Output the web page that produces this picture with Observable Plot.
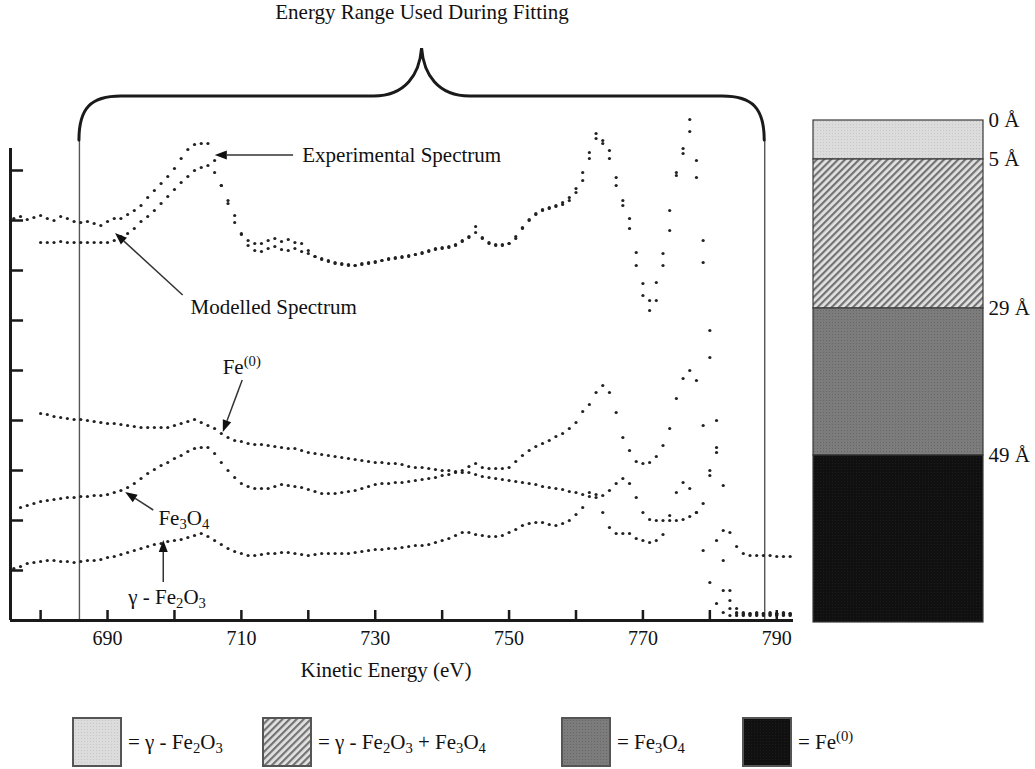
<!DOCTYPE html>
<html><head><meta charset="utf-8">
<script src="https://cdn.jsdelivr.net/npm/d3@7"></script>
<script src="https://cdn.jsdelivr.net/npm/@observablehq/plot@0.6"></script>
<style>
body{margin:0;background:#fff;}
#wrap{position:relative;width:1035px;height:769px;font-family:"Liberation Serif","Times New Roman",serif;color:#111;overflow:hidden;}
#main{position:absolute;left:0;top:0;}
#bar{position:absolute;left:790px;top:100px;}
.leg{position:absolute;top:717px;height:50px;display:flex;align-items:center;font-size:21px;white-space:nowrap;}
.leg svg{display:block;margin-right:6px;}
.leg sub,.leg sup{font-size:0.7em;line-height:0;}
.leg sub{vertical-align:-0.3em;}
.leg sup{vertical-align:0.55em;}
</style>
</head><body>
<svg width="0" height="0" style="position:absolute">
<defs>
<pattern id="pLight" width="3" height="3" patternUnits="userSpaceOnUse"><rect width="3" height="3" fill="#dcdcdc"/><rect width="1" height="1" fill="#c6c6c6"/></pattern>
<pattern id="pHatch" width="5" height="5" patternUnits="userSpaceOnUse" patternTransform="rotate(45)"><rect width="5" height="5" fill="#e2e2e2"/><rect width="2.2" height="5" fill="#737373"/></pattern>
<pattern id="pMid" width="3" height="3" patternUnits="userSpaceOnUse"><rect width="3" height="3" fill="#7c7c7c"/><rect width="1" height="1" fill="#666"/></pattern>
<pattern id="pDark" width="3" height="3" patternUnits="userSpaceOnUse"><rect width="3" height="3" fill="#101010"/><rect width="1" height="1" fill="#1c1c1c"/></pattern>
</defs>
</svg>
<div id="wrap"><div id="main"></div><div id="bar"></div></div>
<script>
// ---------- DATA ----------
const energyEV = [676,677,678,679,680,681,682,683,684,685,686,687,688,689,690,691,692,693,694,695,696,697,698,699,700,701,702,703,704,705,706,707,708,709,710,711,712,713,714,715,716,717,718,719,720,721,722,723,724,725,726,727,728,729,730,731,732,733,734,735,736,737,738,739,740,741,742,743,744,745,746,747,748,749,750,751,752,753,754,755,756,757,758,759,760,761,762,763,764,765,766,767,768,769,770,771,772,773,774,775,776,777,778,779,780,781,782,783,784,785,786,787,788,789,790,791,792];

const experimental = [402,404,401,403,405,402,400,404,402,399,
398,399,397,395,399,402,402,406,410,415,
423,430,437,444,452,462,471,476,477,477,
460,435,417,398,386,380,377,377,380,382,
379,381,378,377,370,364,362,360,358,357,
356,355,357,358,359,360,362,363,364,365,
366,368,370,372,373,374,376,380,384,394,
383,378,376,376,377,382,392,400,406,410,
412,414,416,420,428,440,462,487,477,462,
435,415,392,355,325,310,320,355,390,445,
472,501,460,380,290,200,90,30,12,8,
7,8,7,8,7,8,7];

const modelled = [null,null,null,null,
378,378,378,379,378,378,378,378,378,378,
378,380,384,387,392,399,404,410,417,424,
431,438,444,450,453,455,448,435,420,405,
387,375,370,369,372,374,371,370,372,369,
367,364,361,359,357,356,355,355,356,357,
358,360,361,362,363,364,366,367,369,371,
372,373,375,379,383,388,382,377,375,375,
377,384,393,401,407,411,413,415,418,423,
432,448,468,482,480,470,443,420,402,368,
337,320,338,367,410,448,467,489,443,358,
263,168,60,20,8,6,6,6,6,6,
6,6,6];

const fe0 = [null,null,null,null,
207,206,204,203,202,201,201,200,199,198,
197,197,196,195,194,193,193,193,193,193,
195,197,199,201,198,195,192,187,183,180,
179,177,176,176,175,174,173,172,172,170,
168,167,166,165,164,163,162,161,160,159,
158,158,157,157,156,154,153,153,152,151,
150,150,149,148,148,146,144,143,142,141,
140,139,138,137,136,134,133,132,131,129,
128,126,124,123,125,130,137,142,137,123,
108,101,100,100,100,100,101,104,108,117,
145,173,135,88,74,67,65,65,65,65,
64,64,64];

const fe3o4 = [null,
113,115,117,119,120,121,122,123,123,124,
124,125,125,126,128,130,133,137,142,147,
151,155,158,162,165,169,172,173,173,167,
158,150,143,137,134,132,132,132,134,136,
135,134,133,131,129,127,127,127,128,129,
130,132,134,136,137,137,138,138,139,140,
141,142,143,145,146,148,150,154,157,153,
152,152,152,153,159,165,170,174,177,180,
184,187,192,198,209,216,228,235,228,208,
183,170,159,157,158,164,175,192,222,242,
250,240,195,150,80,30,12,7,7,7,
7,7,7,7,7,7];

const gammaFe2o3 = [52,54,57,58,59,60,60,59,59,58,
59,60,60,61,63,64,66,68,70,72,
74,76,77,79,80,81,83,85,87,84,
80,76,72,69,67,65,65,66,67,67,
68,68,67,66,65,66,67,67,67,67,
67,68,69,70,71,71,72,72,73,74,
75,75,76,78,80,82,85,88,88,86,
85,84,84,85,88,91,95,97,98,98,
96,95,97,100,106,113,128,126,108,93,
87,87,87,82,80,78,80,86,105,128,
138,132,108,70,38,17,8,5,5,5,
5,5,5,5,5,5,5];

const xTickValues = [680,690,700,710,720,730,740,750,760,770,780,790];
const xTickLabels = [690,710,730,750,770,790];
const yTickValues = [50,100,150,200,250,300,350,400,450];
const fitRange = [685.8, 788.2];

const layerNames = ["γ-Fe2O3", "γ-Fe2O3 + Fe3O4", "Fe3O4", "Fe(0)"];
const layerTop = [0, 5, 29, 49];
const layerBottom = [5, 29, 49, 73];
const depthLabels = [0, 5, 29, 49];

const notes = [
  {label: "Experimental Spectrum", tx: 719.1, ty: 465, fromE: 717.8, fromV: 465, toE: 706.1, toV: 465},
  {label: "Modelled Spectrum", tx: 702.4, ty: 313, fromE: 701.3, fromV: 325, toE: 691.2, toV: 387},
  {label: "Fe^{(0)}", tx: 707.2, ty: 253, fromE: 710.2, fromV: 240, toE: 707.3, toV: 188},
  {label: "Fe_{3}O_{4}", tx: 697.6, ty: 102, fromE: 696.9, fromV: 110, toE: 692.7, toV: 128},
  {label: "γ - Fe_{2}O_{3}", tx: 693.1, ty: 23, fromE: 698.4, fromV: 38, toE: 698.4, toV: 80}
];

// ---------- BUILD ----------
const seriesList = [["Experimental", experimental], ["Modelled", modelled], ["Fe(0)", fe0], ["Fe3O4", fe3o4], ["γ-Fe2O3", gammaFe2o3]];
const points = [];
seriesList.forEach(([name, vals]) => vals.forEach((v, i) => { if (v != null) points.push({E: energyEV[i], v, s: name}); }));

const FONT = "Liberation Serif, Times New Roman, serif";
const xDomain = [675.5, 792.5];

function braceMark(range) {
  return (index, scales, values, dims) => {
    const xl = scales.x(range[0]), xr = scales.x(range[1]);
    const top = dims.marginTop;
    const yb = top - 8, yh = top - 52, yc = top - 100, xm = (xl + xr) / 2, r = 42;
    const d = `M${xl},${yb} C${xl},${yh + 12} ${xl + 12},${yh} ${xl + r},${yh}` +
      ` L${xm - 48},${yh} C${xm - 16},${yh} ${xm - 2},${yh - 22} ${xm},${yc}` +
      ` C${xm + 2},${yh - 22} ${xm + 16},${yh} ${xm + 48},${yh}` +
      ` L${xr - r},${yh} C${xr - 12},${yh} ${xr},${yh + 12} ${xr},${yb}`;
    const g = d3.create("svg:g");
    g.append("path").attr("d", d).attr("fill", "none").attr("stroke", "#1a1a1a").attr("stroke-width", 3).attr("stroke-linecap", "round");
    return g.node();
  };
}

function arrowMark(data) {
  return (index, scales) => {
    const g = d3.create("svg:g");
    for (const a of data) {
      const x1 = scales.x(a.fromE), y1 = scales.y(a.fromV), x2 = scales.x(a.toE), y2 = scales.y(a.toV);
      const ang = Math.atan2(y2 - y1, x2 - x1), L = 12, w = 4.5;
      const bx = x2 - L * Math.cos(ang), by = y2 - L * Math.sin(ang);
      g.append("line").attr("x1", x1).attr("y1", y1).attr("x2", bx).attr("y2", by)
        .attr("stroke", "#333").attr("stroke-width", 1.5);
      g.append("path").attr("d", `M${x2},${y2}L${bx - w * Math.sin(ang)},${by + w * Math.cos(ang)}L${bx + w * Math.sin(ang)},${by - w * Math.cos(ang)}Z`)
        .attr("fill", "#111");
    }
    return g.node();
  };
}

const main = Plot.plot({
  width: 800, height: 665,
  marginLeft: 10, marginRight: 7, marginTop: 148, marginBottom: 45,
  x: {domain: xDomain, axis: null},
  y: {domain: [0, 472], axis: null},
  style: {fontFamily: FONT, background: "transparent", overflow: "visible"},
  marks: [
    Plot.ruleX(fitRange, {y1: 0, y2: 480, stroke: "#555", strokeWidth: 1.4}),
    braceMark(fitRange),
    Plot.dot(points, {x: "E", y: "v", r: 1.6, fill: "#222"}),
    Plot.ruleY([0], {stroke: "#1a1a1a", strokeWidth: 3}),
    Plot.ruleX([xDomain[0]], {stroke: "#1a1a1a", strokeWidth: 3}),
    Plot.ruleX(xTickValues, {y1: 0, y2: 10, stroke: "#1a1a1a", strokeWidth: 2.5}),
    Plot.ruleY(yTickValues, {x1: xDomain[0], x2: xDomain[0] + 1.95, stroke: "#1a1a1a", strokeWidth: 2.5}),
    Plot.text(xTickLabels, {x: d => d, y: 0, dy: 18, text: d => String(d), fontSize: 20, fill: "#111"}),
    Plot.text(["Kinetic Energy (eV)"], {text: d => d, frameAnchor: "bottom", lineAnchor: "middle", dx: -16, dy: 50, fontSize: 21, fill: "#111"}),
    Plot.text([{t: "Energy Range Used During Fitting", E: (fitRange[0] + fitRange[1]) / 2}], {x: "E", text: "t", frameAnchor: "top", lineAnchor: "middle", dy: -136, fontSize: 21, fill: "#111"}),
    arrowMark(notes),
    Plot.text(notes, {x: "tx", y: "ty", text: "label", textAnchor: "start", fontSize: 21, fill: "#111"})
  ]
});

function richify(svg) {
  d3.select(svg).selectAll("text").each(function () {
    const s = this.textContent;
    if (!/[_^]\{/.test(s)) return;
    const el = d3.select(this);
    el.text(null);
    const re = /([_^])\{([^}]*)\}|([^_^]+)/g;
    let m;
    while ((m = re.exec(s))) {
      if (m[3]) el.append("tspan").text(m[3]);
      else el.append("tspan").attr("font-size", "0.7em").attr("baseline-shift", m[1] === "_" ? "-0.3em" : "0.55em").text(m[2]);
    }
  });
}
richify(main);
document.getElementById("main").appendChild(main);

// ---------- Layer bar ----------
// The depth axis of the drawing is not to scale: a piecewise stretch is applied through the scale's transform.
const depthStretch = d3.scaleLinear().domain([0, 5, 29, 49, 73]).range([0, 39, 188, 335, 502]);
const fillByLayer = {"γ-Fe2O3": "url(#pLight)", "γ-Fe2O3 + Fe3O4": "url(#pHatch)", "Fe3O4": "url(#pMid)", "Fe(0)": "url(#pDark)"};
const layers = layerNames.map((n, i) => ({name: n, top: layerTop[i], bottom: layerBottom[i]}));
const bar = Plot.plot({
  width: 245, height: 530,
  marginLeft: 23, marginRight: 52, marginTop: 20, marginBottom: 8,
  x: {domain: [0, 1], axis: null},
  y: {transform: d => depthStretch(d), domain: [0, 502], reverse: true, axis: null},
  color: {type: "identity"},
  style: {fontFamily: FONT, background: "transparent", overflow: "visible"},
  marks: [
    Plot.rect(layers, {x1: 0, x2: 1, y1: "top", y2: "bottom", fill: d => fillByLayer[d.name], stroke: "#3a3a3a", strokeWidth: 1.2}),
    Plot.text(depthLabels, {x: 1, y: d => d, text: d => d + " Å", dx: 5, textAnchor: "start", fontSize: 21, fill: "#111"})
  ]
});
document.getElementById("bar").appendChild(bar);

// ---------- Legend ----------
const legendHtml = [
  "= γ - Fe<sub>2</sub>O<sub>3</sub>",
  "= γ - Fe<sub>2</sub>O<sub>3</sub> + Fe<sub>3</sub>O<sub>4</sub>",
  "= Fe<sub>3</sub>O<sub>4</sub>",
  "= Fe<sup>(0)</sup>"
];
const legendLeft = [72, 262, 561, 742];
const wrap = d3.select("#wrap");
layerNames.forEach((n, i) => {
  const item = wrap.append("div").attr("class", "leg").style("left", legendLeft[i] + "px");
  const sv = item.append("svg").attr("width", 50).attr("height", 50);
  sv.append("rect").attr("x", 1).attr("y", 1).attr("width", 48).attr("height", 48)
    .attr("fill", fillByLayer[n]).attr("stroke", "#555").attr("stroke-width", 2);
  item.append("span").html(legendHtml[i]);
});
</script>
</body></html>
